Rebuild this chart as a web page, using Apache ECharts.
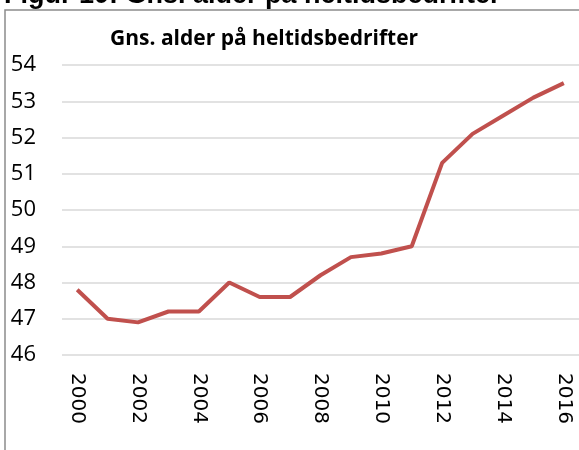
<!DOCTYPE html>
<html>
<head>
<meta charset="utf-8">
<script src="https://cdn.jsdelivr.net/npm/echarts@6/dist/echarts.min.js"></script>
<style>
  body { margin: 0; background: #fff; }
  #chart { width: 579px; height: 450px; }
</style>
</head>
<body>
<div id="chart"></div>
<script>
// data
var years = ['2000','2001','2002','2003','2004','2005','2006','2007','2008',
             '2009','2010','2011','2012','2013','2014','2015','2016'];
var avgAge = [47.8, 47.0, 46.9, 47.2, 47.2, 48.0, 47.6, 47.6, 48.2,
              48.7, 48.8, 49.0, 51.3, 52.1, 52.6, 53.1, 53.5];

var myChart = echarts.init(document.getElementById('chart'));

myChart.setOption({
  animation: false,
  backgroundColor: '#fff',
  title: {
    text: 'Gns. alder på heltidsbedrifter',
    left: 105,
    top: 24,
    textStyle: {
      fontFamily: 'Open Sans',
      fontWeight: 'bold',
      fontSize: 21,
      color: '#000'
    }
  },
  graphic: [
    {
      // caption above the frame, cut off at the top edge
      type: 'text',
      z: 1,
      style: {
        x: 4,
        y: 9,
        text: 'Figur 10: Gns. alder på heltidsbedrifter',
        font: 'bold 27px "Liberation Sans"',
        verticalAlign: 'bottom',
        fill: '#000'
      }
    },
    {
      type: 'polyline',
      z: 2,
      shape: { points: [[5, 450], [5, 10], [579, 10]] },
      style: { stroke: '#8c8c8c', lineWidth: 1.5, fill: null }
    }
  ],
  grid: {
    left: 62,
    right: -3,
    top: 65,
    bottom: 95
  },
  xAxis: {
    type: 'category',
    data: years,
    boundaryGap: true,
    axisLine: { show: false },
    axisTick: { show: false },
    axisLabel: {
      rotate: -90,
      interval: 1,
      margin: 18,
      fontFamily: 'DejaVu Sans',
      fontSize: 20,
      color: '#000'
    }
  },
  yAxis: {
    type: 'value',
    min: 46,
    max: 54,
    interval: 1,
    axisLine: { show: false },
    axisTick: { show: false },
    axisLabel: {
      margin: 26,
      fontFamily: 'Open Sans',
      fontSize: 22,
      color: '#000'
    },
    splitLine: { lineStyle: { color: '#d9d9d9', width: 1.5 } }
  },
  series: [
    {
      type: 'line',
      data: avgAge,
      symbol: 'none',
      lineStyle: { color: '#c0504d', width: 4 }
    }
  ]
});
</script>
</body>
</html>
